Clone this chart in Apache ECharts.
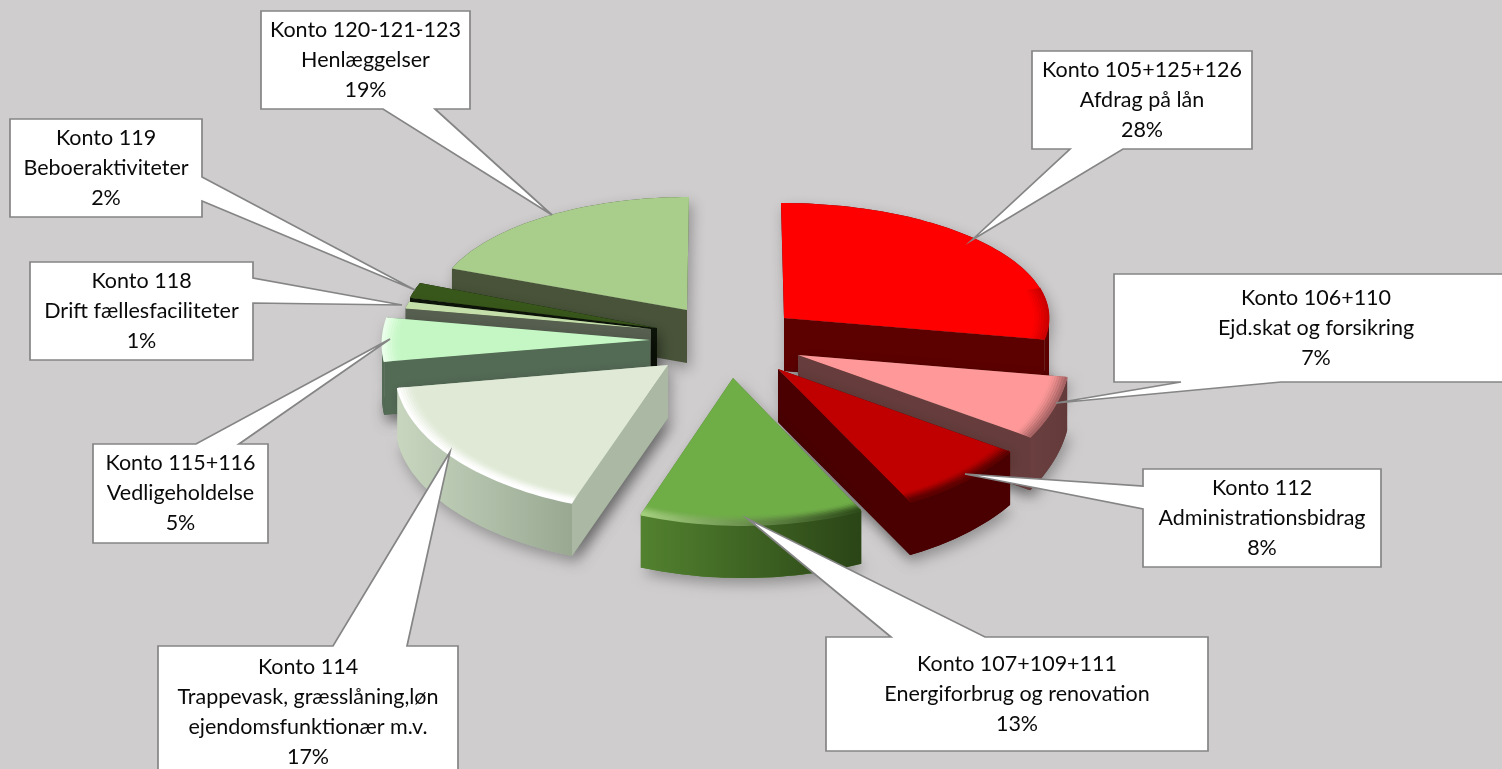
<!DOCTYPE html>
<html>
<head>
<meta charset="utf-8">
<script src="https://cdn.jsdelivr.net/npm/echarts@6/dist/echarts.min.js"></script>
<style>
  html, body { margin: 0; padding: 0; background: #cfcdce; overflow: hidden; }
  #main { width: 1502px; height: 769px; }
</style>
</head>
<body>
<div id="main"></div>
<script>
// data, clockwise from 12 o'clock
const accounts = ['Konto 105+125+126', 'Konto 106+110', 'Konto 112', 'Konto 107+109+111', 'Konto 114', 'Konto 115+116', 'Konto 118', 'Konto 119', 'Konto 120-121-123']
const names = [
  'Afdrag på lån',
  'Ejd.skat og forsikring',
  'Administrationsbidrag',
  'Energiforbrug og renovation',
  'Trappevask, græsslåning,løn\nejendomsfunktionær m.v.',
  'Vedligeholdelse',
  'Drift fællesfaciliteter',
  'Beboeraktiviteter',
  'Henlæggelser'
]
const shares = [28, 7, 8, 13, 17, 5, 1, 2, 19]

// where each exploded slice sits: [apex x, apex y, radius x, radius y, arc shift x, arc shift y]
const sliceLayout = [
  [784, 318, 268, 115, -3, 0],
  [798, 355, 214, 150, 59, -6],
  [778, 369, 261, 158, 21, -10],
  [733, 378, 278, 150, 10, -3],
  [668, 365, 280, 143, 7, 5],
  [650, 340, 268, 141, 0, 4],
  [651, 329, 250, 110, 0, 0],
  [657, 328, 255, 122, 0, 0],
  [687, 310, 255, 113, 2, 0]
]
const sliceDepth = 53

const topColors = ['#ff0000', '#ff9999', '#c00000', '#6fad47', '#dfe9d5', '#c5f7c5', '#c5dfaa', '#38571a', '#a9ce8c']
const faceColors = ['#5c0000', '#663c3c', '#4a0000', '#4e7c2d', '#aab8a4', '#536a55', '#565f50', '#0d1408', '#485339']
const wallLeft = ['#5c0000', '#6b3f3f', '#4a0000', '#52822f', '#c8d6c0', '#536a55', '#565f50', '#0d1408', '#485339']
const wallRight = ['#5c0000', '#633a3a', '#4a0000', '#2a4416', '#98a891', '#536a55', '#565f50', '#0d1408', '#485339']
const rimLeft = ['#cc0000', '#a86464', '#5c0000', '#a4d07e', '#ffffff', '#eaffea', null, null, null]
const rimRight = ['#cc0000', '#a86464', '#5c0000', '#2c4a18', '#ffffff', '#eaffea', null, null, null]

// callout boxes: [x, y, w, h], the side the pointer leaves from, pointer base, pointer tip
const calloutBox = [
  [1032, 51, 220, 98],
  [1114, 274, 404, 108],
  [1143, 469, 238, 98],
  [826, 637, 382, 114],
  [158, 646, 300, 132],
  [93, 444, 175, 99],
  [30, 262, 223, 98],
  [10, 119, 192, 98],
  [261, 11, 209, 98]
]
const calloutSide = ['bottom', 'bottom', 'left', 'top', 'top', 'top', 'right', 'right', 'bottom']
const calloutBase = [[1070, 1123], [1181, 1281], [486, 509], [891, 985], [333, 407], [196, 239], [278, 303], [177, 201], [383, 435]]
const calloutTip = [[972, 240], [1056, 403], [965, 474], [748, 519], [450, 452], [390, 339], [402, 305], [415, 290], [552, 215]]

const lineHeight = 30
const rad = Math.PI / 180
const total = shares.reduce((a, b) => a + b, 0)

const arcPoints = (s, from, to, f, dy) => {
  const pts = []
  const steps = Math.max(2, Math.ceil((to - from) / 1.5))
  for (let k = 0; k <= steps; k++) {
    const th = (from + ((to - from) * k) / steps) * rad
    pts.push([s[0] + f * (s[4] + s[2] * Math.sin(th)), s[1] + f * (s[5] - s[3] * Math.cos(th)) + dy])
  }
  return pts
}

const sideGradient = (pts, left, right) => {
  const xs = pts.map((p) => p[0])
  return {
    type: 'linear',
    x: Math.min(...xs),
    y: 0,
    x2: Math.max(...xs) + 1,
    y2: 0,
    global: true,
    colorStops: [
      { offset: 0, color: left },
      { offset: 1, color: right }
    ]
  }
}

const shadow = { shadowBlur: 14, shadowColor: 'rgba(0,0,0,0.3)', shadowOffsetX: 3, shadowOffsetY: 6 }

const renderSlice = (params, api) => {
  const i = api.value(1)
  const s = sliceLayout[i]
  const before = shares.slice(0, i).reduce((a, b) => a + b, 0)
  const a1 = (before / total) * 360
  const a2 = ((before + api.value(0)) / total) * 360
  const apex = [s[0], s[1]]
  const apexLow = [s[0], s[1] + sliceDepth]
  const top = arcPoints(s, a1, a2, 1, 0)
  const children = []
  const f1 = Math.max(a1, 90)
  const f2 = Math.min(a2, 270)

  // soft shadow on the ground, only under the part that has a visible floor
  children.push({ type: 'polygon', silent: true, shape: { points: [apex].concat(top) }, style: Object.assign({ fill: faceColors[i] }, shadow) })
  if (f2 > f1) {
    children.push({ type: 'polygon', silent: true, shape: { points: [apexLow].concat(arcPoints(s, f1, f2, 1, sliceDepth)) }, style: Object.assign({ fill: faceColors[i] }, shadow) })
  }

  // cut faces that look towards the viewer
  if (Math.sin(a1 * rad) < 0) {
    const e = top[0]
    children.push({ type: 'polygon', silent: true, shape: { points: [apex, e, [e[0], e[1] + sliceDepth], apexLow] }, style: Object.assign({ fill: faceColors[i] }, shadow) })
  }
  if (Math.sin(a2 * rad) > 0) {
    const e = top[top.length - 1]
    children.push({ type: 'polygon', silent: true, shape: { points: [apex, e, [e[0], e[1] + sliceDepth], apexLow] }, style: Object.assign({ fill: faceColors[i] }, shadow) })
  }

  // round outer wall, front half only
  if (f2 > f1) {
    const upper = arcPoints(s, f1, f2, 1, 0)
    const lower = arcPoints(s, f1, f2, 1, sliceDepth).reverse()
    children.push({ type: 'polygon', silent: true, shape: { points: upper.concat(lower) }, style: { fill: sideGradient(upper, wallLeft[i], wallRight[i]) } })
  }

  children.push({ type: 'polygon', silent: true, shape: { points: [apex].concat(top) }, style: { fill: topColors[i] } })

  // bevel along the rim
  if (rimLeft[i]) {
    const r1 = Math.max(a1, 75)
    const r2 = Math.min(a2, 285)
    const rim = arcPoints(s, r1, r2, 1, 0)
    const stroke = sideGradient(rim, rimLeft[i], rimRight[i])
    for (let n = 6; n >= 0; n--) {
      children.push({
        type: 'polyline',
        silent: true,
        shape: { points: arcPoints(s, r1, r2, 0.996 - 0.009 * n, 0) },
        style: { fill: null, stroke, lineWidth: 3, opacity: Math.pow(1 - n / 7, 1.6) }
      })
    }
  }
  return { type: 'group', children }
}

const renderCallout = (params, api) => {
  const i = api.value(0)
  const [x, y, w, h] = calloutBox[i]
  const [b1, b2] = calloutBase[i]
  const tip = calloutTip[i]
  const r = x + w
  const b = y + h
  let points
  if (calloutSide[i] === 'top') {
    points = [[x, y], [b1, y], tip, [b2, y], [r, y], [r, b], [x, b]]
  } else if (calloutSide[i] === 'bottom') {
    points = [[x, y], [r, y], [r, b], [b2, b], tip, [b1, b], [x, b]]
  } else if (calloutSide[i] === 'left') {
    points = [[x, y], [r, y], [r, b], [x, b], [x, b2], tip, [x, b1]]
  } else {
    points = [[x, y], [r, y], [r, b1], tip, [r, b2], [r, b], [x, b]]
  }
  const lines = [accounts[i]].concat(names[i].split('\n'), shares[i] + '%')
  const first = y + h / 2 - ((lines.length - 1) * lineHeight) / 2
  const children = [
    { type: 'polygon', silent: true, shape: { points }, style: { fill: '#ffffff', stroke: '#858585', lineWidth: 1.7, lineJoin: 'miter' } }
  ]
  lines.forEach((text, n) => {
    children.push({
      type: 'text',
      silent: true,
      style: {
        text,
        x: x + w / 2,
        y: first + n * lineHeight,
        textAlign: 'center',
        textVerticalAlign: 'middle',
        fill: '#0a0a0a',
        font: '21.5px Lato'
      }
    })
  })
  return { type: 'group', children }
}

// slices further back are painted first
const paintOrder = shares.map((_, i) => i).sort((a, b) => sliceLayout[a][1] - sliceLayout[b][1])

const option = {
  backgroundColor: '#cfcdce',
  animation: false,
  series: [
    {
      type: 'custom',
      coordinateSystem: 'none',
      renderItem: renderSlice,
      data: paintOrder.map((i) => [shares[i], i])
    },
    {
      type: 'custom',
      coordinateSystem: 'none',
      z: 5,
      renderItem: renderCallout,
      data: shares.map((_, i) => [i])
    }
  ]
}

const myChart = echarts.init(document.getElementById('main'), null, { renderer: 'canvas' })
myChart.setOption(option)
</script>
</body>
</html>
